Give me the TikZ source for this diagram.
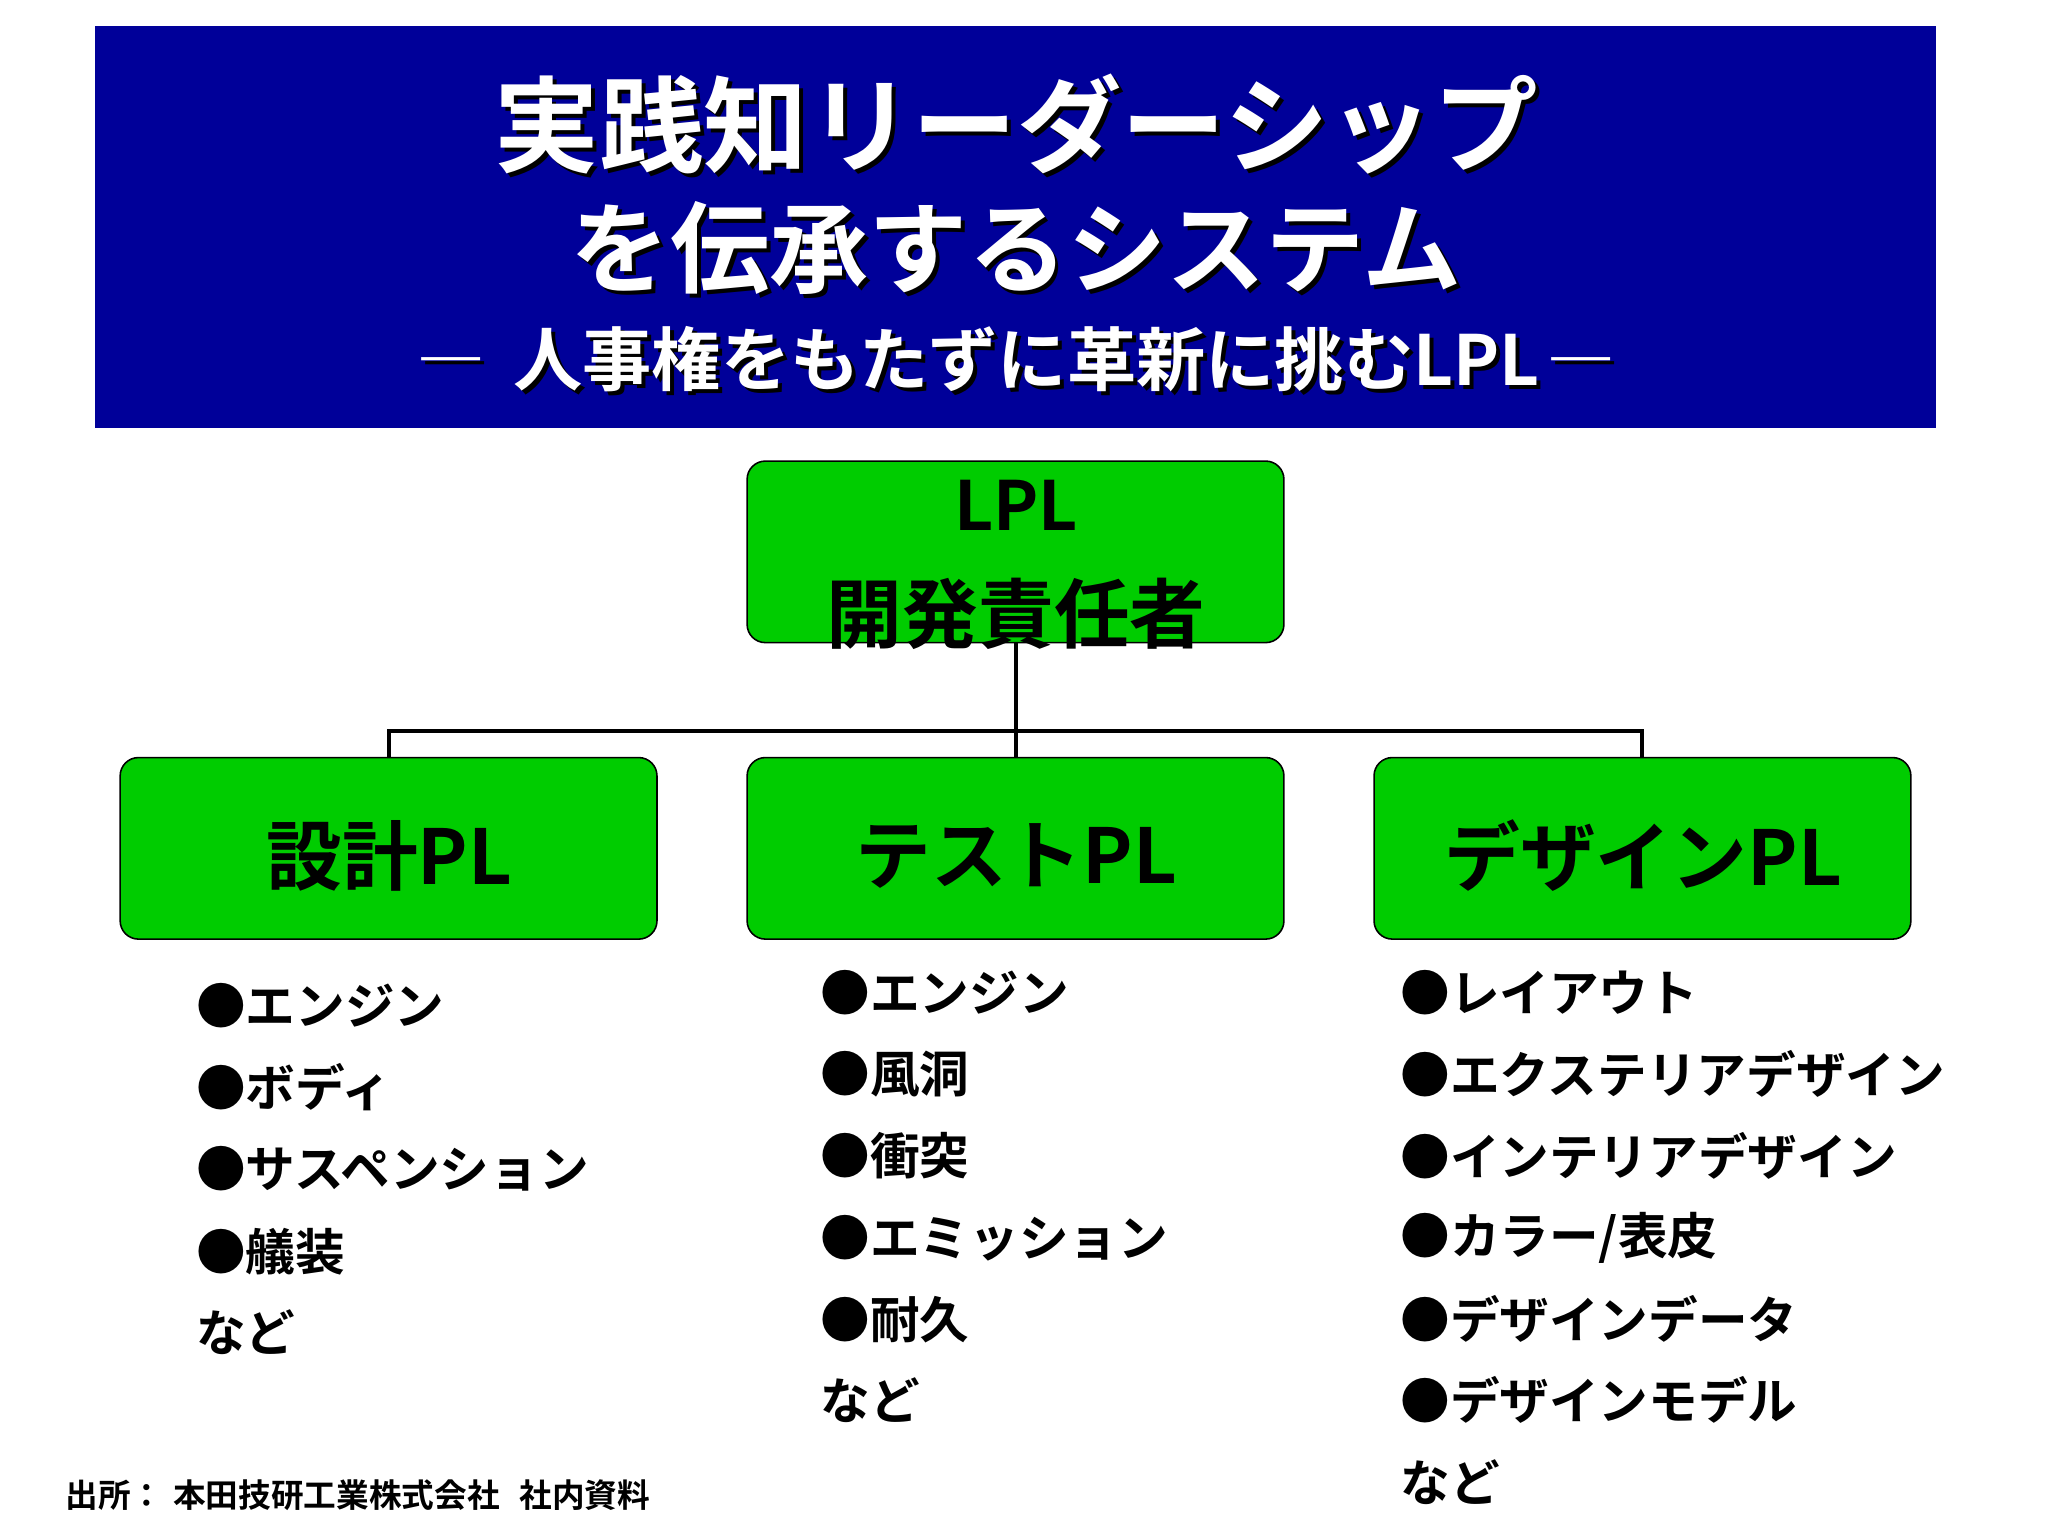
\documentclass[tikz,border=0pt]{standalone}
\usepackage{fontspec}
\setmainfont{Noto Sans CJK JP}[BoldFont={* Bold}]
\newfontfamily\jp{Noto Sans CJK JP Bold}
\definecolor{navy}{RGB}{0,0,153}
\definecolor{grn}{RGB}{0,204,0}
\begin{document}
\begin{tikzpicture}[x=1pt,y=-1pt,
  box/.style={draw=black,line width=1.2pt,fill=grn,rounded corners=14pt},
  itm/.style={anchor=west,inner sep=0pt,font=\jp\fontsize{38}{40}\selectfont},
  ttl/.style={font=\jp\fontsize{#1}{#1}\selectfont,inner sep=0pt}]
\useasboundingbox (0,0) rectangle (1568,1176);
\fill[white] (0,0) rectangle (1568,1176);
\fill[navy] (73,20) rectangle (1482,328);
% title with shadow
\foreach \c/\o in {black/3,white/0}{
 \node[ttl=80,text=\c] (t1\c) at (778+\o,95+\o) {実践知リーダーシップ};
 \node[ttl=76,text=\c] (t2\c) at (778+\o,190+\o) {を伝承するシステム};
 \node[ttl=53,text=\c] (t3\c) at (778+\o,275+\o) {―\hspace{0.4em}人事権をもたずに革新に挑むLPL\hspace{0.1em}―};
}
\draw[box] (572,353) rectangle (983,492);
\node[ttl=52] (lpl) at (778,387) {LPL};
\node[ttl=58] (dev) at (778,470) {開発責任者};
\coordinate (top) at (778,492);
\coordinate (j) at (778,560);
\coordinate (l) at (298,560);
\coordinate (r) at (1257,560);
\coordinate (lb) at (298,580);
\coordinate (rb) at (1257,580);
\coordinate (jb) at (778,580);
\draw[line width=3pt] (top)--(j);
\draw[line width=3pt] (lb)--(l)--(r)--(rb);
\draw[line width=3pt] (j)--(jb);
\draw[box] (92,580) rectangle (503,719);
\draw[box] (572,580) rectangle (983,719);
\draw[box] (1052,580) rectangle (1463,719);
\node[ttl=58] (a) at (298,655) {設計PL};
\node[ttl=58] (b) at (778,655) {テストPL};
\node[ttl=58] (c) at (1258,655) {デザインPL};
\node[itm] (a1) at (150,770) {●エンジン};
\node[itm] (a2) at (150,832) {●ボディ};
\node[itm] (a3) at (150,895) {●サスペンション};
\node[itm] (a4) at (150,958) {●艤装};
\node[itm] (a5) at (150,1020) {など};
\node[itm] (b1) at (628,760) {●エンジン};
\node[itm] (b2) at (628,822) {●風洞};
\node[itm] (b3) at (628,885) {●衝突};
\node[itm] (b4) at (628,948) {●エミッション};
\node[itm] (b5) at (628,1010) {●耐久};
\node[itm] (b6) at (628,1072) {など};
\node[itm] (c1) at (1072,760) {●レイアウト};
\node[itm] (c2) at (1072,822) {●エクステリアデザイン};
\node[itm] (c3) at (1072,885) {●インテリアデザイン};
\node[itm] (c4) at (1072,948) {●カラー/表皮};
\node[itm] (c5) at (1072,1010) {●デザインデータ};
\node[itm] (c6) at (1072,1072) {●デザインモデル};
\node[itm] (c7) at (1072,1135) {など};
\node[anchor=west,inner sep=0pt,font=\jp\fontsize{25}{26}\selectfont] (src) at (50,1145) {出所：\hspace{0.3em}本田技研工業株式会社\hspace{0.6em}社内資料};
\end{tikzpicture}
\end{document}
